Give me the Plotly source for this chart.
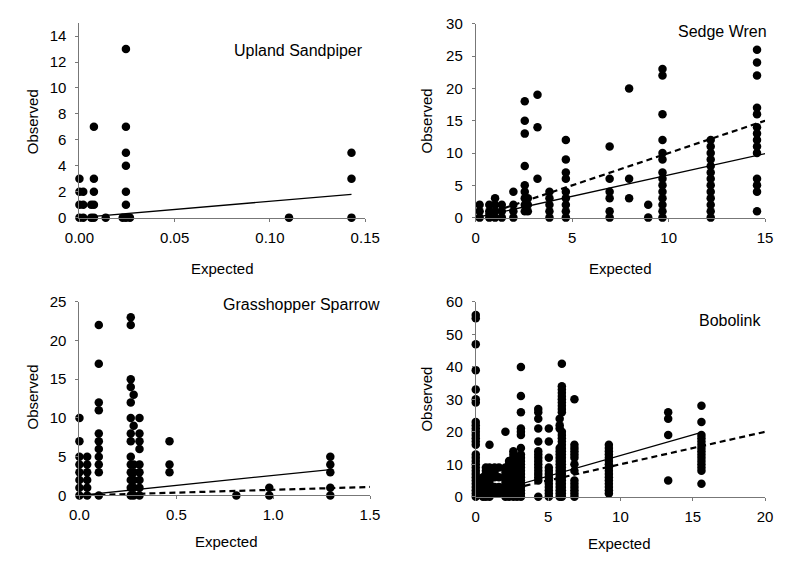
import plotly.graph_objects as go

FONT = "Liberation Sans, Arial, sans-serif"
# the page body has an 8px margin: the figure is drawn 775x552 at (8, 8)
OFF = 8
W, H = 791 - 2 * OFF, 568 - 2 * OFF

# ---------------- data ----------------
# Upland Sandpiper
us_expected = [0.0, 0.002, 0.0062, 0.0076, 0.0138, 0.0227, 0.0244, 0.0265, 0.110, 0.1428]
us_observed = [[3, 2, 1, 0], [2, 1, 0], [1, 0], [7, 3, 2, 1, 0], [0], [0],
               [13, 7, 5, 4, 2, 1, 0], [0], [0], [5, 3, 0]]
us_solid_x = [0.0, 0.1428]
us_solid_y = [0.0, 1.8]

# Sedge Wren
sw_expected = [0.2, 0.7, 1.0, 1.35, 1.95, 2.54, 2.7, 3.2, 3.82, 4.67, 6.94, 7.95, 8.94, 9.68, 12.18, 14.58]
sw_observed = [[2, 1, 0], [2, 1, 0], [3, 2, 1, 0], [2, 1, 0], [4, 2, 1, 0],
               [18, 15, 13, 8, 5, 4, 3, 2, 1], [3, 2, 1], [19, 14, 6],
               [4, 3, 2, 1, 0], [12, 9, 7, 6, 4, 3, 2, 1, 0], [11, 6, 4, 3, 1, 0],
               [20, 6, 3], [2, 0],
               [23, 22, 16, 12, 10, 9, 7, 6, 5, 4, 3, 2, 1, 0],
               [12, 11, 10, 9, 8, 7, 6, 5, 4, 3, 2, 1, 0],
               [26, 24, 22, 17, 16, 14, 13, 12, 11, 10, 6, 5, 4, 1]]
sw_solid_x = [0.0, 15.0]
sw_solid_y = [0.0, 9.9]
sw_dash_x = [0.0, 15.0]
sw_dash_y = [0.0, 15.0]

# Grasshopper Sparrow
gs_expected = [0.0, 0.04, 0.10, 0.265, 0.28, 0.31, 0.465, 0.81, 0.98, 1.295]
gs_observed = [[10, 7, 5, 4, 3, 2, 1, 0], [5, 4, 3, 2, 1, 0],
               [22, 17, 12, 11, 8, 7, 6, 5, 4, 3, 0],
               [23, 22, 15, 14, 12, 10, 8, 7, 5, 4, 3, 2, 1, 0],
               [13, 9, 4, 3, 2, 1, 0], [10, 8, 7, 6, 4, 3, 2, 1, 0],
               [7, 4, 3], [0], [1, 0], [5, 4, 3, 1, 0]]
gs_solid_x = [0.0, 1.295]
gs_solid_y = [0.0, 3.35]
gs_dash_x = [0.0, 1.5]
gs_dash_y = [0.0, 1.1]

# Bobolink
bb_expected = [0.0, 0.5, 0.7, 0.95, 1.3, 1.6, 2.05, 2.3, 2.6, 2.85, 3.12, 4.32, 5.05, 5.8, 5.95, 6.82, 9.2, 13.3, 15.6]
bb_observed = [[56, 55, 47, 39, 33, 30, 29, 23, 22, 21, 20, 19, 18, 17, 16,
                13, 12, 11, 10, 9, 8, 7, 6, 5, 4, 3, 2, 1, 0],
               [6, 5, 4, 3, 2, 1, 0], [9, 8, 7, 6, 5, 4, 3, 2, 1, 0],
               [16, 9, 8, 7, 6, 5, 4, 3, 2, 1, 0], [9, 8, 7, 6, 3, 2, 1], [9, 6, 3, 2, 1],
               [20, 9, 8, 7, 6, 5, 4, 3, 2, 1, 0],
               [11, 10, 9, 8, 7, 6, 5, 4, 3, 2, 1, 0],
               [14, 13, 12, 11, 10, 9, 8, 7, 6, 5, 4, 3, 2, 1, 0],
               [12, 11, 10, 9, 8, 7, 6, 5, 4, 3, 2, 1, 0],
               [40, 31, 26, 21, 20, 19, 15, 13, 12, 11, 10, 9, 8, 7, 6, 5, 4, 3, 2, 1, 0],
               [27, 26, 24, 21, 17, 14, 13, 12, 11, 10, 9, 8, 7, 6, 5, 0],
               [21, 17, 12, 9, 8, 7, 6, 5, 4, 3, 2, 1, 0],
               [24, 22, 21, 15, 14, 13, 12, 11, 10, 9, 8, 7, 6, 5, 4, 3, 2, 1, 0],
               [41, 34, 33, 32, 31, 30, 29, 28, 27, 26, 20, 19, 18, 17, 16, 15, 14, 13,
                12, 11, 10, 9, 8, 7, 6, 5, 4, 3, 2, 1, 0],
               [30, 16, 15, 14, 13, 12, 10, 8, 5, 4, 3, 2, 1, 0],
               [16, 15, 14, 13, 12, 11, 10, 9, 8, 7, 6, 5, 4, 3, 2, 1],
               [26, 24, 19, 5],
               [28, 23, 19, 18, 17, 16, 15, 14, 13, 12, 11, 10, 9, 8, 4]]
bb_solid_x = [0.0, 15.6]
bb_solid_y = [0.0, 19.8]
bb_dash_x = [0.0, 20.0]
bb_dash_y = [0.0, 20.0]

panel_titles = ["Upland Sandpiper", "Sedge Wren", "Grasshopper Sparrow", "Bobolink"]
x_title = "Expected"
y_title = "Observed"


def expand(expected, observed):
    xs, ys = [], []
    for e, obs in zip(expected, observed):
        for o in obs:
            xs.append(e)
            ys.append(o)
    return xs, ys


fig = go.Figure()

panels = [
    (us_expected, us_observed, (us_solid_x, us_solid_y), None, "x", "y"),
    (sw_expected, sw_observed, (sw_solid_x, sw_solid_y), (sw_dash_x, sw_dash_y), "x2", "y2"),
    (gs_expected, gs_observed, (gs_solid_x, gs_solid_y), (gs_dash_x, gs_dash_y), "x3", "y3"),
    (bb_expected, bb_observed, (bb_solid_x, bb_solid_y), (bb_dash_x, bb_dash_y), "x4", "y4"),
]

for exp_, obs_, solid, dash, xa, ya in panels:
    px, py = expand(exp_, obs_)
    fig.add_trace(go.Scatter(x=px, y=py, mode="markers", xaxis=xa, yaxis=ya,
                             marker=dict(size=8.5, color="black"), cliponaxis=False,
                             showlegend=False, hoverinfo="skip"))
    fig.add_trace(go.Scatter(x=solid[0], y=solid[1], mode="lines", xaxis=xa, yaxis=ya,
                             line=dict(color="black", width=1.3), cliponaxis=False,
                             showlegend=False, hoverinfo="skip"))
    if dash is not None:
        fig.add_trace(go.Scatter(x=dash[0], y=dash[1], mode="lines", xaxis=xa, yaxis=ya,
                                 line=dict(color="black", width=2.2, dash="6px,4px"),
                                 cliponaxis=False, showlegend=False, hoverinfo="skip"))


def px2x(p):
    return (p - OFF) / W


def py2y(p):
    return 1 - (p - OFF) / H


axis_common = dict(showgrid=False, zeroline=False, showline=True, linecolor="#777",
                   linewidth=1, ticks="outside", ticklen=3, tickcolor="#777",
                   tickfont=dict(family=FONT, size=15, color="black"))

xcfg = [
    dict(domain=[px2x(66.7), px2x(364)], range=[0, 0.15], dtick=0.05, tickformat=".2f", anchor="y"),
    dict(domain=[px2x(479), px2x(780)], range=[0, 15], dtick=5, anchor="y2"),
    dict(domain=[px2x(66.7), px2x(369)], range=[0, 1.5], dtick=0.5, tickformat=".1f", anchor="y3"),
    dict(domain=[px2x(479), px2x(780)], range=[0, 20], dtick=5, anchor="y4"),
]
ycfg = [
    dict(domain=[py2y(215), py2y(14.3)], range=[0, 15], dtick=2, anchor="x"),
    dict(domain=[py2y(215), py2y(15)], range=[0, 30], dtick=5, anchor="x2"),
    dict(domain=[py2y(501.7), py2y(301.7)], range=[0, 25], dtick=5, anchor="x3"),
    dict(domain=[py2y(503), py2y(302)], range=[0, 60], dtick=10, anchor="x4"),
]

layout = dict(width=W, height=H, margin=dict(l=0, r=0, t=0, b=0),
              plot_bgcolor="white", paper_bgcolor="white",
              font=dict(family=FONT, size=15, color="black"))
for i in range(4):
    suffix = "" if i == 0 else str(i + 1)
    xa = dict(axis_common, **xcfg[i])
    xa.update(ticklabelstandoff=3)
    ya = dict(axis_common, **ycfg[i])
    ya.update(ticklabelstandoff=6)
    layout["xaxis" + suffix] = xa
    layout["yaxis" + suffix] = ya

annotations = []
title_pos = [(364, 43), (784, 23), (381, 305), (778, 321)]
for t, (tx, ty) in zip(panel_titles, title_pos):
    annotations.append(dict(text=t, x=px2x(tx), y=py2y(ty), xref="paper", yref="paper",
                            xanchor="right", yanchor="middle", showarrow=False,
                            font=dict(family=FONT, size=16, color="black")))
xt_pos = [(216, 268), (630, 268), (220, 549), (628, 551)]
for tx, ty in xt_pos:
    annotations.append(dict(text=x_title, x=px2x(tx), y=py2y(ty), xref="paper", yref="paper",
                            xanchor="center", yanchor="middle", showarrow=False,
                            font=dict(family=FONT, size=15, color="black")))
yt_pos = [(18, 116), (428, 115), (18, 400), (428, 402)]
for tx, ty in yt_pos:
    annotations.append(dict(text=y_title, x=px2x(tx), y=py2y(ty), xref="paper", yref="paper",
                            xanchor="center", yanchor="middle", textangle=-90, showarrow=False,
                            font=dict(family=FONT, size=15, color="black")))
layout["annotations"] = annotations

fig.update_layout(**layout)
fig.write_html("out.html")
